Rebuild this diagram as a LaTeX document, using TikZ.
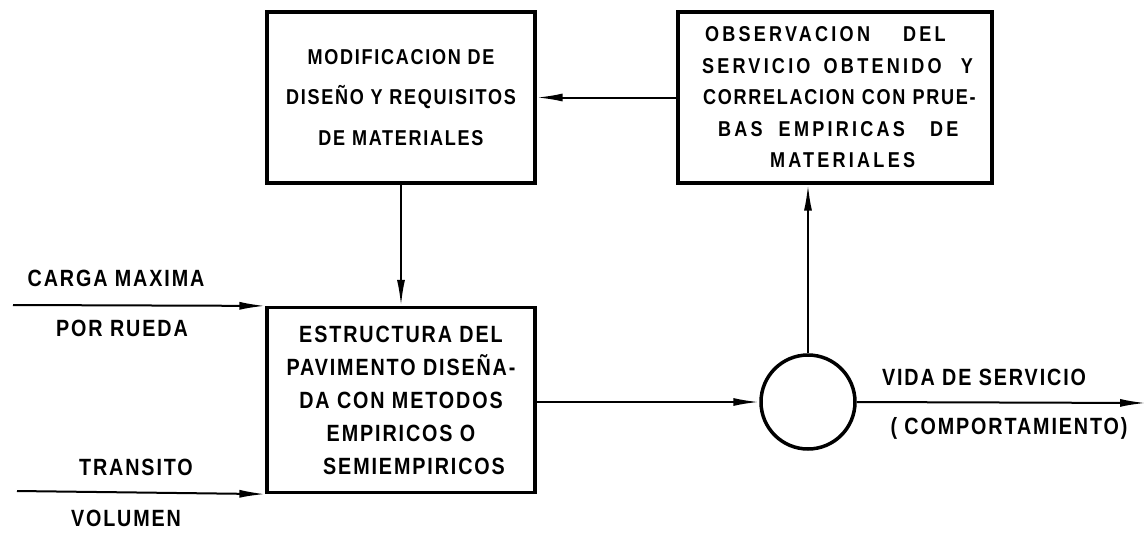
\documentclass[tikz,border=0pt]{standalone}
\usepackage{fontspec}
\setmainfont{Liberation Sans}[LetterSpace=8, FakeStretch=0.84]
\usetikzlibrary{arrows.meta}
\newcommand{\widesp}{\addfontfeature{LetterSpace=15}}
\tikzset{
  box/.style={draw, line width=3.2pt, inner sep=0pt, align=center},
  boxA/.style={box, font=\fontsize{21.5}{40.5}\bfseries},
  boxB/.style={box, font=\fontsize{21.5}{31.5}\bfseries, text width=282pt, align=left},
  boxC/.style={box, font=\fontsize{23.5}{33}\bfseries},
  lbl/.style={font=\fontsize{23.5}{25}\bfseries, inner sep=0pt},
  conn/.style={line width=2pt, -{Latex[length=26pt,width=8pt]}},
}
\begin{document}
\begin{tikzpicture}[x=1pt,y=-1pt]
\useasboundingbox (0,0) rectangle (1146,544);
% boxes
\node[boxA, minimum width=268pt, minimum height=171pt] (mod) at (401,97.5)
  {MODIFICACION DE\\DISEÑO Y REQUISITOS\\DE MATERIALES};
\node[boxB, minimum width=314pt, minimum height=171pt] (obs) at (835,97.5)
  {\hspace*{11pt}{\widesp OBSERVACION\hspace{26pt} DEL}\\
   \hspace*{8pt}{\widesp SERVICIO\hspace{6pt} OBTENIDO\hspace{12pt} Y}\\
   \hspace*{9pt}CORRELACION CON PRUE-\\
   \hspace*{24pt}{\widesp BAS\hspace{9pt} EMPIRICAS\hspace{18pt} DE}\\
   \hspace*{76pt}{\widesp MATERIALES}};
\node[boxC, minimum width=268pt, minimum height=185pt] (est) at (401,400)
  {ESTRUCTURA DEL\\PAVIMENTO DISEÑA-\\DA CON METODOS\\EMPIRICOS O\\\hspace*{26pt}SEMIEMPIRICOS};
\node[draw, circle, line width=3.5pt, minimum size=94pt, inner sep=0pt] (circ) at (808,402) {};
% labels
\node[lbl] (l1) at (116,278) {CARGA MAXIMA};
\node[lbl] (l2) at (122,328) {POR RUEDA};
\node[lbl] (l3) at (136,467) {TRANSITO};
\node[lbl] (l4) at (126,518) {VOLUMEN};
\node[lbl] (l5) at (984,377) {VIDA DE SERVICIO};
\node[lbl] (l6) at (1009,428) {( COMPORTAMIENTO)};
% free ends
\coordinate (in1) at (13,305);
\coordinate (in2) at (17,491);
\coordinate (out) at (1146,403);
% connectors
\draw[conn] (obs.west |- mod.east) -- (mod.east);
\draw[conn] (mod.south) -- (est.north);
\draw[conn] (in1) -- (est.north west);
\draw[conn] (in2) -- (est.south west);
\draw[conn] (est.east |- circ.west) -- (circ.west);
\draw[conn] (circ.north) -- (circ.north |- obs.south);
\draw[conn] (circ.east) -- (out);
\end{tikzpicture}
\end{document}
